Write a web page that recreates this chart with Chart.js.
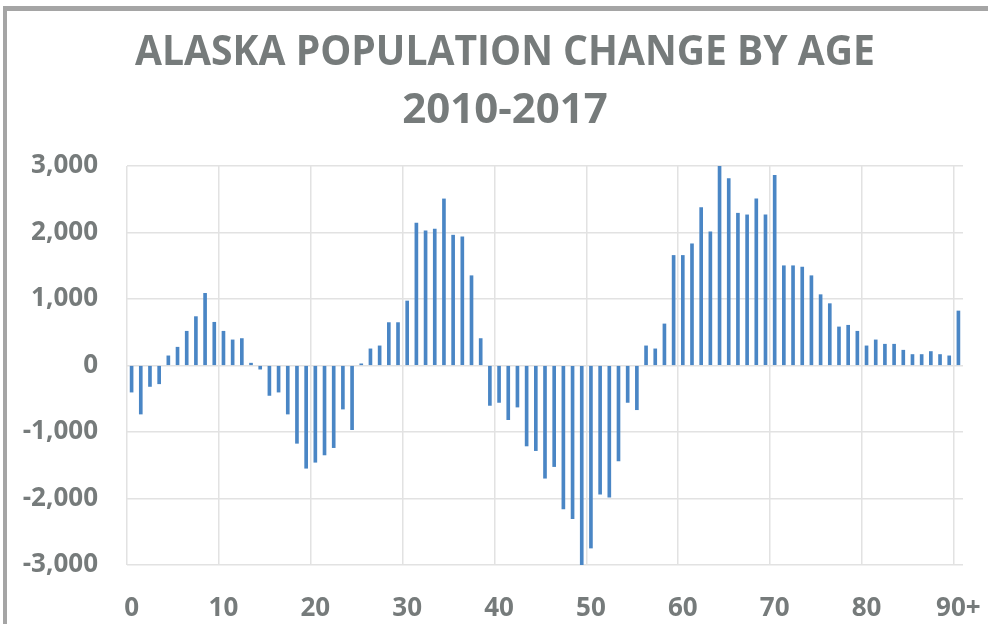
<!DOCTYPE html>
<html>
<head>
<meta charset="utf-8">
<script src="https://cdn.jsdelivr.net/npm/chart.js@4.4.1/dist/chart.umd.min.js"></script>
<style>
  html, body { margin: 0; padding: 0; background: #ffffff; }
  #wrap { position: relative; width: 988px; height: 624px; overflow: hidden; }
  canvas { display: block; }
</style>
</head>
<body>
<div id="wrap"><canvas id="c" width="988" height="624"></canvas></div>
<script>
// ---- data ----
const titleLines = ['ALASKA POPULATION CHANGE BY AGE', '2010-2017'];
const ageLabels = ['0','1','2','3','4','5','6','7','8','9',
  '10','11','12','13','14','15','16','17','18','19',
  '20','21','22','23','24','25','26','27','28','29',
  '30','31','32','33','34','35','36','37','38','39',
  '40','41','42','43','44','45','46','47','48','49',
  '50','51','52','53','54','55','56','57','58','59',
  '60','61','62','63','64','65','66','67','68','69',
  '70','71','72','73','74','75','76','77','78','79',
  '80','81','82','83','84','85','86','87','88','89','90+'];
const populationChange = [
  -400, -730, -315, -275, 145, 275, 515, 735, 1085, 650,
  515, 385, 405, 35, -55, -450, -400, -730, -1170, -1545,
  -1455, -1345, -1235, -655, -965, 25, 250, 295, 645, 645,
  970, 2140, 2025, 2050, 2505, 1960, 1935, 1350, 405, -600,
  -555, -815, -625, -1210, -1280, -1695, -1520, -2155, -2305, -3000,
  -2745, -1935, -1980, -1435, -555, -665, 295, 250, 625, 1655,
  1655, 1830, 2375, 2010, 3000, 2810, 2290, 2265, 2505, 2265,
  2860, 1500, 1500, 1480, 1350, 1065, 930, 580, 605, 515,
  295, 385, 320, 320, 230, 165, 165, 210, 165, 145,
  820
];
const yTickValues = [-3000, -2000, -1000, 0, 1000, 2000, 3000];
const xLabelEvery = 10;

// ---- styles ----
const TEXT = '#767b7b';
const GRID = '#e2e2e2';
const BAR = '#4a86c5';
const FONT = "'Open Sans', 'Liberation Sans', sans-serif";

const framePlugin = {
  id: 'frame',
  beforeDraw(chart) {
    const ctx = chart.ctx;
    ctx.save();
    ctx.fillStyle = '#ffffff';
    ctx.fillRect(0, 0, chart.width, chart.height);
    ctx.fillStyle = '#a5a5a5';
    ctx.fillRect(3, 6, chart.width, 5);
    ctx.fillRect(3, 6, 4, chart.height);
    ctx.restore();
  },
  afterDraw(chart) {
    const ctx = chart.ctx;
    ctx.save();
    ctx.fillStyle = TEXT;
    ctx.textAlign = 'center';
    ctx.textBaseline = 'alphabetic';
    ctx.font = "bold 42px " + FONT;
    ctx.fillText(titleLines[0], 505, 65, 740);
    ctx.fillText(titleLines[1], 505, 123, 210);
    ctx.restore();
  }
};

new Chart(document.getElementById('c'), {
  type: 'bar',
  data: {
    labels: ageLabels,
    datasets: [{
      data: populationChange,
      backgroundColor: BAR,
      borderWidth: 0,
      barThickness: 3
    }]
  },
  options: {
    responsive: false,
    animation: false,
    devicePixelRatio: 1,
    layout: { padding: { top: 166, right: 25, left: 0, bottom: 0 } },
    plugins: {
      legend: { display: false },
      title: { display: false },
      tooltip: { enabled: false }
    },
    scales: {
      x: {
        type: 'category',
        offset: true,
        grid: {
          offset: true,
          drawTicks: false,
          lineWidth: 1.5,
          color: (ctx) => (ctx.index !== undefined && ctx.index % xLabelEvery === 0) ? GRID : 'rgba(0,0,0,0)'
        },
        border: { display: false },
        ticks: {
          autoSkip: false,
          maxRotation: 0,
          minRotation: 0,
          padding: 28,
          color: TEXT,
          font: { family: FONT, size: 26, weight: 'bold' },
          callback: function (value, index) {
            return index % xLabelEvery === 0 ? ageLabels[index] : '';
          }
        },
        afterFit(scale) {
          scale.height = 59;
          scale.paddingLeft = 0;
          scale.paddingRight = 0;
        }
      },
      y: {
        min: -3000,
        max: 3000,
        afterBuildTicks(scale) { scale.ticks = yTickValues.map(v => ({ value: v })); },
        grid: { drawTicks: false, lineWidth: 1.5, color: GRID },
        border: { display: false },
        ticks: {
          padding: 29,
          color: TEXT,
          font: { family: FONT, size: 26, weight: 'bold' },
          callback: (v) => Number(v).toLocaleString('en-US')
        },
        afterFit(scale) {
          scale.width = 127;
          scale.paddingTop = 0;
          scale.paddingBottom = 0;
        }
      }
    }
  },
  plugins: [framePlugin]
});
</script>
</body>
</html>
